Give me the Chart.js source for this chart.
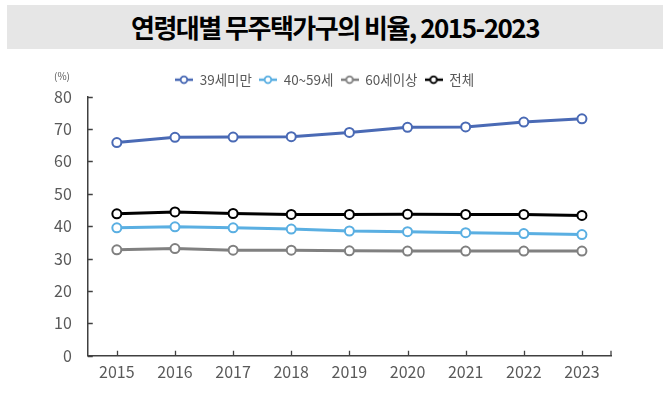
<!DOCTYPE html>
<html>
<head>
<meta charset="utf-8">
<script src="https://cdn.jsdelivr.net/npm/chart.js@4/dist/chart.umd.min.js"></script>
<style>
  body { margin: 0; background: #fff; }
  #wrap { position: relative; width: 670px; height: 394px; }
  #title {
    position: absolute; left: 7px; top: 5px; width: 656px; height: 44px;
    background: #e6e6e6; text-align: center; line-height: 44px;
    font-family: "Noto Sans CJK KR", sans-serif; font-weight: 700; font-size: 26px;
    letter-spacing: -1.5px; color: #000;
  }
  #c { position: absolute; left: 0; top: 0; }
</style>
</head>
<body>
<div id="wrap">
  <div id="title">연령대별 무주택가구의 비율, 2015-2023</div>
  <canvas id="c" width="670" height="394"></canvas>
</div>
<script>
var years = ['2015', '2016', '2017', '2018', '2019', '2020', '2021', '2022', '2023'];
var under39 = [65.8, 67.4, 67.5, 67.6, 68.9, 70.5, 70.6, 72.1, 73.1];
var age40to59 = [39.5, 39.8, 39.5, 39.1, 38.5, 38.3, 38.0, 37.7, 37.4];
var over60 = [32.7, 33.1, 32.6, 32.6, 32.4, 32.3, 32.3, 32.3, 32.3];
var total = [43.8, 44.4, 43.9, 43.6, 43.6, 43.7, 43.6, 43.6, 43.3];
var yTicks = [0, 10, 20, 30, 40, 50, 60, 70, 80];

var FONT = '"Noto Sans CJK KR", "Noto Sans", sans-serif';
var TICK_COLOR = '#595959';

// legend marker: short line with an open circle
function legendIcon(color)
{
   var cv = document.createElement('canvas');
   cv.width = 18; cv.height = 10;
   var g = cv.getContext('2d');
   g.strokeStyle = color; g.lineWidth = 2.5;
   g.beginPath(); g.moveTo(0, 5); g.lineTo(18, 5); g.stroke();
   g.fillStyle = '#fff'; g.lineWidth = 1.8;
   g.beginPath(); g.arc(9, 5, 3.3, 0, Math.PI * 2); g.fill(); g.stroke();
   return cv;
}

function series(label, data, color)
{
   return {
       label: label,
       data: data,
       borderColor: color,
       backgroundColor: '#fff',
       borderWidth: 3,
       pointRadius: 4.5,
       pointBorderWidth: 2,
       pointBackgroundColor: '#fff',
       pointBorderColor: color,
       pointStyle: 'circle',
       tension: 0,
       icon: legendIcon(color)
   };
}

// inside tick marks + "(%)" unit label
var extras = {
   id: 'extras',
   afterDraw: function (chart) {
       var ctx = chart.ctx;
       var xs = chart.scales.x, ys = chart.scales.y;
       var area = chart.chartArea;
       ctx.save();
       ctx.strokeStyle = '#404040';
       ctx.lineWidth = 1.3;
       ctx.beginPath();
       yTicks.forEach(function (v) {
           var py = Math.round(ys.getPixelForValue(v)) + 0.5;
           ctx.moveTo(area.left, py); ctx.lineTo(area.left + 5, py);
       });
       years.forEach(function (y, i) {
           var px = Math.round(xs.getPixelForValue(i)) + 0.5;
           ctx.moveTo(px, area.bottom); ctx.lineTo(px, area.bottom - 5);
       });
       ctx.moveTo(area.right, area.bottom); ctx.lineTo(area.right, area.bottom - 5);
       ctx.stroke();
       ctx.fillStyle = TICK_COLOR;
       ctx.font = '10px ' + FONT;
       ctx.textAlign = 'center';
       ctx.textBaseline = 'middle';
       ctx.fillText('(%)', 62, 76);
       ctx.restore();
   }
};

var ctx = document.getElementById('c').getContext('2d');
var chart = new Chart(ctx, {
   type: 'line',
   data: {
       labels: years,
       datasets: [
           series('39세미만', under39, '#4a6ab5'),
           series('40~59세', age40to59, '#5aafe2'),
           series('60세이상', over60, '#808080'),
           series('전체', total, '#000000')
       ]
   },
   options: {
       responsive: false,
       animation: false,
       layout: { padding: { top: 66, left: 38, right: 59, bottom: 5 } },
       plugins: {
           title: { display: false },
           tooltip: { enabled: false },
           legend: {
               position: 'top',
               labels: {
                   usePointStyle: true,
                   pointStyleWidth: 18,
                   boxHeight: 10,
                   padding: 7,
                   color: TICK_COLOR,
                   font: { family: FONT, size: 13.5 },
                   generateLabels: function (chart) {
                       return chart.data.datasets.map(function (ds, i) {
                           return {
                               text: ds.label,
                               pointStyle: ds.icon,
                               fillStyle: '#fff',
                               strokeStyle: ds.borderColor,
                               lineWidth: 0,
                               fontColor: TICK_COLOR,
                               datasetIndex: i,
                               hidden: false
                           };
                       });
                   }
               }
           }
       },
       scales: {
           x: {
               offset: true,
               grid: { display: false, drawTicks: false },
               border: { display: true, color: '#404040', width: 1.5 },
               ticks: { color: TICK_COLOR, font: { family: FONT, size: 16 }, padding: 7, maxRotation: 0 }
           },
           y: {
               min: 0, max: 80,
               grid: { display: false, drawTicks: false },
               border: { display: true, color: '#404040', width: 1.5 },
               ticks: { stepSize: 10, color: TICK_COLOR, font: { family: FONT, size: 16 }, padding: 16 }
           }
       }
   },
   plugins: [extras]
});
</script>
</body>
</html>
